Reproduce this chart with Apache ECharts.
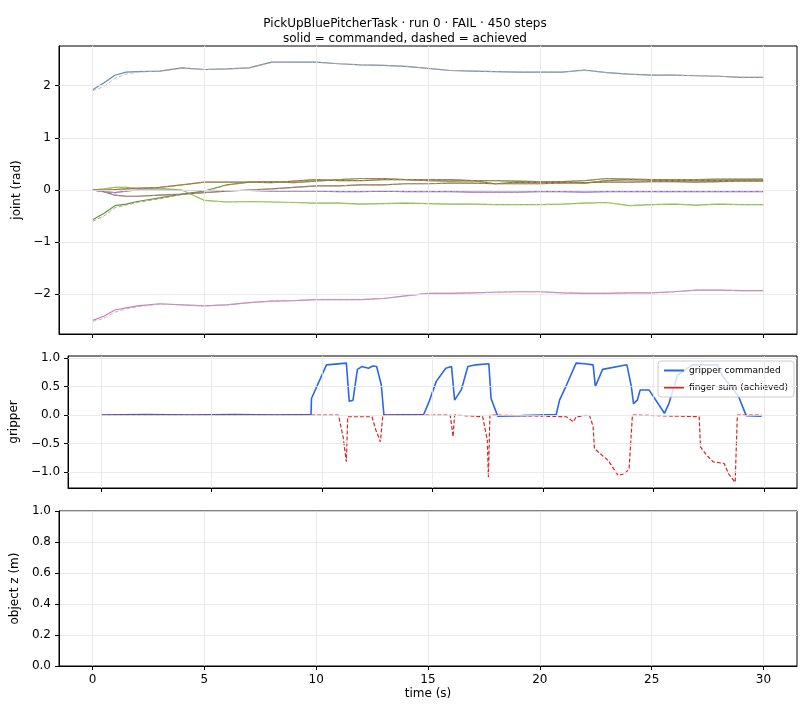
<!DOCTYPE html>
<html>
<head>
<meta charset="utf-8">
<script src="https://cdn.jsdelivr.net/npm/echarts@6/dist/echarts.min.js"></script>
<style>html,body{margin:0;padding:0;background:#fff}#chart{width:810px;height:720px}</style>
</head>
<body>
<div id="chart"></div>
<script>
// joint samples (s)
var jointTime = [0,0.5,1,1.5,2,3,4,5,6,7,8,9,10,11,12,13,14,15,16,17,18,19,20,21,22,23,24,25,26,27,28,29,30];
var j1Cmd = [1.92,2.05,2.2,2.26,2.27,2.28,2.34,2.31,2.32,2.34,2.45,2.45,2.45,2.42,2.40,2.39,2.37,2.33,2.29,2.28,2.27,2.26,2.26,2.26,2.30,2.25,2.22,2.2,2.2,2.19,2.18,2.16,2.16];
var j1Ach = [1.90,1.98,2.14,2.22,2.26,2.28,2.33,2.31,2.32,2.34,2.44,2.45,2.45,2.42,2.40,2.39,2.37,2.33,2.29,2.28,2.27,2.26,2.26,2.26,2.29,2.25,2.22,2.2,2.2,2.19,2.18,2.16,2.16];
var j2Cmd = [-0.57,-0.45,-0.3,-0.27,-0.22,-0.15,-0.08,-0.02,0.1,0.15,0.16,0.14,0.17,0.2,0.22,0.22,0.2,0.2,0.2,0.18,0.18,0.17,0.16,0.16,0.18,0.22,0.21,0.2,0.2,0.2,0.21,0.21,0.21];
var j2Ach = [-0.6,-0.5,-0.34,-0.29,-0.24,-0.17,-0.09,-0.03,0.09,0.15,0.16,0.14,0.17,0.2,0.22,0.22,0.2,0.2,0.2,0.18,0.18,0.17,0.16,0.16,0.18,0.22,0.21,0.2,0.2,0.2,0.21,0.21,0.21];
var j3Cmd = [0,0.02,0.05,0.05,0.03,0.03,0.0,-0.2,-0.23,-0.22,-0.23,-0.24,-0.25,-0.25,-0.27,-0.26,-0.25,-0.26,-0.27,-0.27,-0.28,-0.28,-0.28,-0.27,-0.25,-0.24,-0.3,-0.28,-0.27,-0.29,-0.27,-0.28,-0.28];
var j4Cmd = [0,-0.03,-0.1,-0.12,-0.12,-0.1,-0.08,-0.05,-0.02,0,0.02,0.05,0.08,0.08,0.1,0.1,0.12,0.12,0.13,0.13,0.12,0.12,0.12,0.13,0.14,0.15,0.15,0.16,0.16,0.15,0.16,0.17,0.17];
var j5Cmd = [0,-0.03,-0.05,-0.02,0,0,-0.01,-0.01,-0.01,-0.01,-0.02,-0.02,-0.02,-0.03,-0.03,-0.02,-0.03,-0.03,-0.03,-0.04,-0.04,-0.04,-0.03,-0.03,-0.04,-0.03,-0.03,-0.03,-0.03,-0.03,-0.03,-0.03,-0.03];
var j6Cmd = [0,0,0.01,0.02,0.03,0.05,0.1,0.15,0.15,0.15,0.14,0.17,0.2,0.18,0.18,0.2,0.2,0.18,0.17,0.18,0.12,0.15,0.14,0.15,0.13,0.18,0.2,0.19,0.18,0.18,0.18,0.19,0.19];
var j7Cmd = [-2.5,-2.42,-2.3,-2.26,-2.22,-2.18,-2.2,-2.22,-2.2,-2.16,-2.13,-2.12,-2.1,-2.1,-2.1,-2.08,-2.03,-1.98,-1.98,-1.97,-1.96,-1.95,-1.95,-1.97,-1.98,-1.98,-1.97,-1.97,-1.95,-1.92,-1.92,-1.93,-1.93];
var j7Ach = [-2.52,-2.46,-2.34,-2.28,-2.24,-2.19,-2.2,-2.22,-2.2,-2.16,-2.13,-2.12,-2.1,-2.1,-2.1,-2.08,-2.03,-1.98,-1.98,-1.97,-1.96,-1.95,-1.95,-1.97,-1.98,-1.98,-1.97,-1.97,-1.95,-1.92,-1.92,-1.93,-1.93];

var gripCmdTime = [0,2,4,6,8,9.5,9.52,10.2,11.1,11.23,11.4,11.6,11.8,12.1,12.3,12.47,12.68,12.8,14.6,14.85,15.17,15.6,15.86,16.0,16.3,16.6,16.96,17.55,17.65,17.95,19.06,20.6,20.75,21.07,21.5,21.9,22.27,22.37,22.7,23.8,24.0,24.1,24.27,24.4,24.8,25.5,25.7,26.1,26.75,27.9,28.1,28.86,29.2,29.9];
var gripCmd = [0,0.01,0,0.01,0,0.01,0.29,0.88,0.91,0.24,0.26,0.8,0.85,0.82,0.86,0.85,0.53,0,0.01,0.24,0.59,0.82,0.85,0.26,0.44,0.85,0.88,0.9,0.29,-0.02,-0.01,0.01,0.26,0.53,0.91,0.9,0.88,0.5,0.8,0.88,0.5,0.2,0.26,0.44,0.44,0.03,0.2,0.7,0.88,0.88,0.7,0.32,-0.01,-0.02];
var fingerTime = [0,10.74,10.95,11.1,11.16,12.26,12.43,12.64,12.75,15.8,15.93,16.0,17.27,17.48,17.53,17.6,21.06,21.38,21.5,22.1,22.27,22.33,22.4,22.96,23.4,23.7,23.9,24.05,27.07,27.13,27.4,27.7,28.2,28.4,28.7,28.8,29.9];
var fingerSum = [0,0,-0.38,-0.82,-0.03,-0.03,-0.26,-0.47,0,0,-0.38,0,-0.03,-0.44,-1.09,0,-0.03,-0.12,-0.03,0,-0.2,-0.59,-0.62,-0.8,-1.06,-1.03,-0.94,0,-0.03,-0.56,-0.7,-0.82,-0.85,-1.03,-1.18,0,0];

var xTicks = [0,5,10,15,20,25,30];

var joints = [
  {cmd: j1Cmd, ach: j1Ach, c: '#5a8fb8', d: '#d8a58a'},
  {cmd: j2Cmd, ach: j2Ach, c: '#4aa14a', d: '#e07a6a'},
  {cmd: j3Cmd, ach: j3Cmd, c: '#6cc06c', d: '#d6c640'},
  {cmd: j4Cmd, ach: j4Cmd, c: '#8c6a3e', d: '#a0a0a0'},
  {cmd: j5Cmd, ach: j5Cmd, c: '#8a66b0', d: '#c0a8d8'},
  {cmd: j6Cmd, ach: j6Cmd, c: '#6f7a2a', d: '#e08060'},
  {cmd: j7Cmd, ach: j7Ach, c: '#d27ac0', d: '#b0b0b0'}
];

function pairs(t, v) {
  var out = [];
  for (var i = 0; i < t.length; i++) out.push([t[i], v[i]]);
  return out;
}

var font = 'DejaVu Sans';
var axisLine = {show: true, onZero: false, lineStyle: {color: '#000', width: 1}};
var split = {show: true, lineStyle: {color: '#e6e6e6', width: 0.8}};
var nameStyle = {color: '#000', fontSize: 12, fontFamily: font};

function xAxis(idx, showLabel) {
  return {
    type: 'value', gridIndex: idx, min: -1.5, max: 31.5,
    axisLine: axisLine,
    axisTick: {show: true, length: 4, customValues: xTicks, lineStyle: {color: '#000'}},
    axisLabel: {show: showLabel, color: '#000', fontSize: 12, fontFamily: font, customValues: xTicks},
    splitLine: {show: false},
    name: showLabel ? 'time (s)' : '', nameLocation: 'middle', nameGap: 22, nameTextStyle: nameStyle
  };
}

function vLines(g) {
  return {type: 'line', xAxisIndex: g, yAxisIndex: g, data: [], silent: true,
    markLine: {symbol: 'none', silent: true, label: {show: false},
      lineStyle: {color: '#e6e6e6', width: 0.8, type: 'solid'},
      data: xTicks.map(function (v) { return {xAxis: v}; })}};
}

var series = [vLines(0), vLines(1), vLines(2)];
series.push({type: 'line', xAxisIndex: 1, yAxisIndex: 1, data: [], silent: true,
  markLine: {symbol: 'none', silent: true, label: {show: false}, lineStyle: {color: '#e6e6e6', width: 0.8, type: 'solid'},
    data: [-1,-0.5,0,0.5,1].map(function (v) { return {yAxis: v}; })}});
joints.forEach(function (j) {
  series.push({type: 'line', xAxisIndex: 0, yAxisIndex: 0, showSymbol: false, silent: true,
    data: pairs(jointTime, j.cmd), lineStyle: {color: j.c, width: 1.2}});
  series.push({type: 'line', xAxisIndex: 0, yAxisIndex: 0, showSymbol: false, silent: true,
    data: pairs(jointTime, j.ach), lineStyle: {color: j.d, width: 1, type: [4, 2], opacity: 0.8}});
});
series.push({name: 'gripper commanded', type: 'line', xAxisIndex: 1, yAxisIndex: 1, showSymbol: false,
  data: pairs(gripCmdTime, gripCmd), itemStyle: {color: '#2a66e6'}, lineStyle: {color: '#2a66e6', width: 1.6}});
series.push({name: 'finger sum (achieved)', type: 'line', xAxisIndex: 1, yAxisIndex: 1, showSymbol: false,
  data: pairs(fingerTime, fingerSum), itemStyle: {color: '#d62728'}, lineStyle: {color: '#d62728', width: 1.2, type: [4, 2]}});
series.push({type: 'line', xAxisIndex: 2, yAxisIndex: 2, data: []});

var gridBox = {show: true, borderColor: '#000', borderWidth: 1, left: 59, right: 13};

var chart = echarts.init(document.getElementById('chart'));
chart.setOption({
  animation: false,
  backgroundColor: '#fff',
  title: {text: 'PickUpBluePitcherTask · run 0 · FAIL · 450 steps\nsolid = commanded, dashed = achieved',
    left: 'center', top: 11, textStyle: {fontFamily: font, fontSize: 12, fontWeight: 'normal', color: '#000', lineHeight: 15}},
  legend: {data: ['gripper commanded', 'finger sum (achieved)'], orient: 'vertical', right: 16, top: 361,
    icon: 'rect', itemWidth: 20, itemHeight: 2, itemGap: 8, padding: [5, 6], backgroundColor: 'rgba(255,255,255,0.8)',
    borderColor: '#ccc', borderWidth: 1, borderRadius: 3,
    textStyle: {fontFamily: font, fontSize: 9, color: '#000'}},
  grid: [
    Object.assign({top: 46, height: 288}, gridBox),
    Object.assign({top: 356, height: 132}, gridBox),
    Object.assign({top: 511, height: 155}, gridBox)
  ],
  xAxis: [xAxis(0, false), xAxis(1, false), xAxis(2, true)],
  yAxis: [
    {type: 'value', gridIndex: 0, min: -2.76, max: 2.76, axisLine: axisLine,
      axisTick: {show: true, length: 4, customValues: [-2,-1,0,1,2], lineStyle: {color: '#000'}},
      axisLabel: {color: '#000', fontSize: 12, fontFamily: font, customValues: [-2,-1,0,1,2],
        formatter: function (v) { return v < 0 ? '\u2212' + (-v) : '' + v; }},
      splitLine: {show: false},
      name: 'joint (rad)', nameLocation: 'middle', nameGap: 36, nameTextStyle: nameStyle},
    {type: 'value', gridIndex: 1, min: -1.28, max: 1.035, axisLine: axisLine,
      axisTick: {show: true, length: 4, customValues: [-1,-0.5,0,0.5,1], lineStyle: {color: '#000'}},
      axisLabel: {color: '#000', fontSize: 12, fontFamily: font, customValues: [-1,-0.5,0,0.5,1],
        formatter: function (v) { return (v < 0 ? '\u2212' : '') + Math.abs(v).toFixed(1); }},
      splitLine: {show: false},
      name: 'gripper', nameLocation: 'middle', nameGap: 42, nameTextStyle: nameStyle},
    {type: 'value', gridIndex: 2, min: 0, max: 1, interval: 0.2, axisLine: axisLine,
      axisTick: {show: true, length: 4, lineStyle: {color: '#000'}},
      axisLabel: {color: '#000', fontSize: 12, fontFamily: font, formatter: function (v) { return v.toFixed(1); }},
      splitLine: split,
      name: 'object z (m)', nameLocation: 'middle', nameGap: 36, nameTextStyle: nameStyle}
  ],
  series: series
});
// horizontal grid lines for joint panel
chart.setOption({series: series.concat([{type: 'line', xAxisIndex: 0, yAxisIndex: 0, data: [], silent: true,
  markLine: {symbol: 'none', silent: true, label: {show: false}, lineStyle: {color: '#e6e6e6', width: 0.8, type: 'solid'},
    data: [-2,-1,0,1,2].map(function (v) { return {yAxis: v}; })}}])});
</script>
</body>
</html>
